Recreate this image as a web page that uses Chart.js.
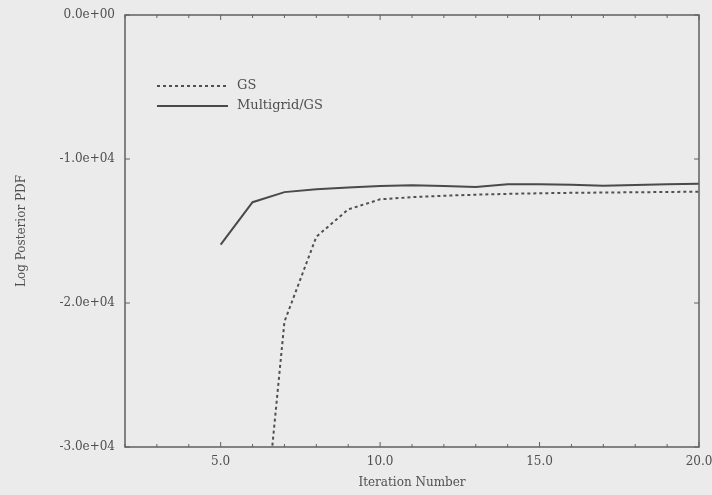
<!DOCTYPE html>
<html>
<head>
<meta charset="utf-8">
<script src="https://cdn.jsdelivr.net/npm/chart.js@4.4.0/dist/chart.umd.min.js"></script>
<style>
    html, body { margin: 0; padding: 0; background: #ebebeb; }
    #wrap { width: 712px; height: 495px; }
</style>
</head>
<body>
<div id="wrap"><canvas id="canvas" width="712" height="495"></canvas></div>
<script>
// values
const multigridIter = [5, 6, 7, 8, 9, 10, 11, 12, 13, 14, 15, 16, 17, 18, 19, 20];
const multigridValues = [-15950, -13000, -12300, -12100, -11980, -11880, -11820, -11880, -11950, -11760, -11750, -11780, -11850, -11800, -11750, -11720];
const gsIter = [6, 7, 8, 9, 10, 11, 12, 13, 14, 15, 16, 17, 18, 19, 20];
const gsValues = [-44000, -21300, -15400, -13500, -12800, -12650, -12550, -12480, -12420, -12380, -12350, -12330, -12310, -12290, -12270];
const xTickValues = [5, 10, 15, 20];
const yTickValues = [0, -10000, -20000, -30000];

const ink = '#4f4f4f';
const serif = "'DejaVu Serif', 'Liberation Serif', serif";

function toPoints(xs, ys) {
    return xs.map((x, i) => ({x: x, y: ys[i]}));
}

function sci(v) {
    if (v === 0) return '0.0e+00';
    const e = Math.floor(Math.log10(Math.abs(v)));
    const m = v / Math.pow(10, e);
    return m.toFixed(1) + 'e' + (e < 0 ? '-' : '+') + String(Math.abs(e)).padStart(2, '0');
}

// paper background
const paper = {
    id: 'paper',
    beforeDraw(chart) {
        const ctx = chart.ctx;
        ctx.save();
        ctx.fillStyle = '#ebebeb';
        ctx.fillRect(0, 0, chart.width, chart.height);
        ctx.restore();
    }
};

// box around plot + inward ticks on all four sides
const frame = {
    id: 'frame',
    afterDraw(chart) {
        const {ctx, chartArea: a, scales} = chart;
        const xs = scales.x, ys = scales.y;
        ctx.save();
        ctx.strokeStyle = '#606060';
        ctx.lineWidth = 1.5;
        ctx.strokeRect(a.left, a.top, a.right - a.left, a.bottom - a.top);
        ctx.lineWidth = 1;
        for (let v = Math.ceil(xs.min); v <= xs.max; v++) {
            const px = xs.getPixelForValue(v);
            const len = xTickValues.includes(v) ? 5 : 3;
            ctx.beginPath();
            ctx.moveTo(px, a.bottom); ctx.lineTo(px, a.bottom - len);
            ctx.moveTo(px, a.top); ctx.lineTo(px, a.top + len);
            ctx.stroke();
        }
        yTickValues.forEach(v => {
            const py = ys.getPixelForValue(v);
            ctx.beginPath();
            ctx.moveTo(a.left, py); ctx.lineTo(a.left + 5, py);
            ctx.moveTo(a.right, py); ctx.lineTo(a.right - 5, py);
            ctx.stroke();
        });
        ctx.restore();
    }
};

// legend in the upper left of the plot, like the original
const boxLegend = {
    id: 'boxLegend',
    afterDatasetsDraw(chart) {
        const {ctx, chartArea: a} = chart;
        ctx.save();
        ctx.font = '13px ' + serif;
        ctx.textBaseline = 'middle';
        chart.data.datasets.forEach((ds, i) => {
            const y = a.top + 71 + i * 20;
            ctx.strokeStyle = ds.borderColor;
            ctx.lineWidth = ds.borderWidth;
            ctx.setLineDash(ds.borderDash || []);
            ctx.beginPath();
            ctx.moveTo(a.left + 32, y);
            ctx.lineTo(a.left + 103, y);
            ctx.stroke();
            ctx.setLineDash([]);
            ctx.fillStyle = ink;
            ctx.fillText(ds.label, a.left + 112, y);
        });
        ctx.restore();
    }
};

const config = {
    type: 'line',
    data: {
        datasets: [{
            label: 'GS',
            data: toPoints(gsIter, gsValues),
            borderColor: '#505050',
            borderWidth: 2,
            borderDash: [3, 3],
            pointRadius: 0,
            tension: 0,
            fill: false
        }, {
            label: 'Multigrid/GS',
            data: toPoints(multigridIter, multigridValues),
            borderColor: '#4a4a4a',
            borderWidth: 2,
            pointRadius: 0,
            tension: 0,
            fill: false
        }]
    },
    options: {
        responsive: false,
        animation: false,
        layout: {padding: {top: 15, right: 13, left: 0, bottom: 0}},
        plugins: {
            legend: {display: false},
            tooltip: {enabled: false}
        },
        scales: {
            x: {
                type: 'linear',
                min: 2,
                max: 20,
                grid: {display: false, drawTicks: false},
                border: {display: false},
                afterBuildTicks(scale) {
                    scale.ticks = xTickValues.map(v => ({value: v}));
                },
                afterFit(scale) {
                    scale.height = 48;
                    scale.paddingLeft = 0;
                    scale.paddingRight = 0;
                },
                ticks: {
                    padding: 8,
                    color: ink,
                    maxRotation: 0,
                    font: {family: serif, size: 12},
                    callback: v => Number(v).toFixed(1)
                },
                title: {
                    display: true,
                    text: 'Iteration Number',
                    color: ink,
                    font: {family: serif, size: 12},
                    padding: {top: 0, bottom: 5}
                }
            },
            y: {
                type: 'linear',
                min: -30000,
                max: 0,
                grid: {display: false, drawTicks: false},
                border: {display: false},
                afterBuildTicks(scale) {
                    scale.ticks = yTickValues.map(v => ({value: v}));
                },
                afterFit(scale) {
                    scale.width = 125;
                    scale.paddingTop = 0;
                    scale.paddingBottom = 0;
                },
                ticks: {
                    padding: 10,
                    color: ink,
                    font: {family: serif, size: 12},
                    callback: v => sci(v)
                },
                title: {
                    display: true,
                    text: 'Log Posterior PDF',
                    color: ink,
                    font: {family: serif, size: 12},
                    padding: {top: 15, bottom: 0}
                }
            }
        }
    },
    plugins: [paper, frame, boxLegend]
};

const ctx = document.getElementById('canvas').getContext('2d');
const myChart = new Chart(ctx, config);
</script>
</body>
</html>
